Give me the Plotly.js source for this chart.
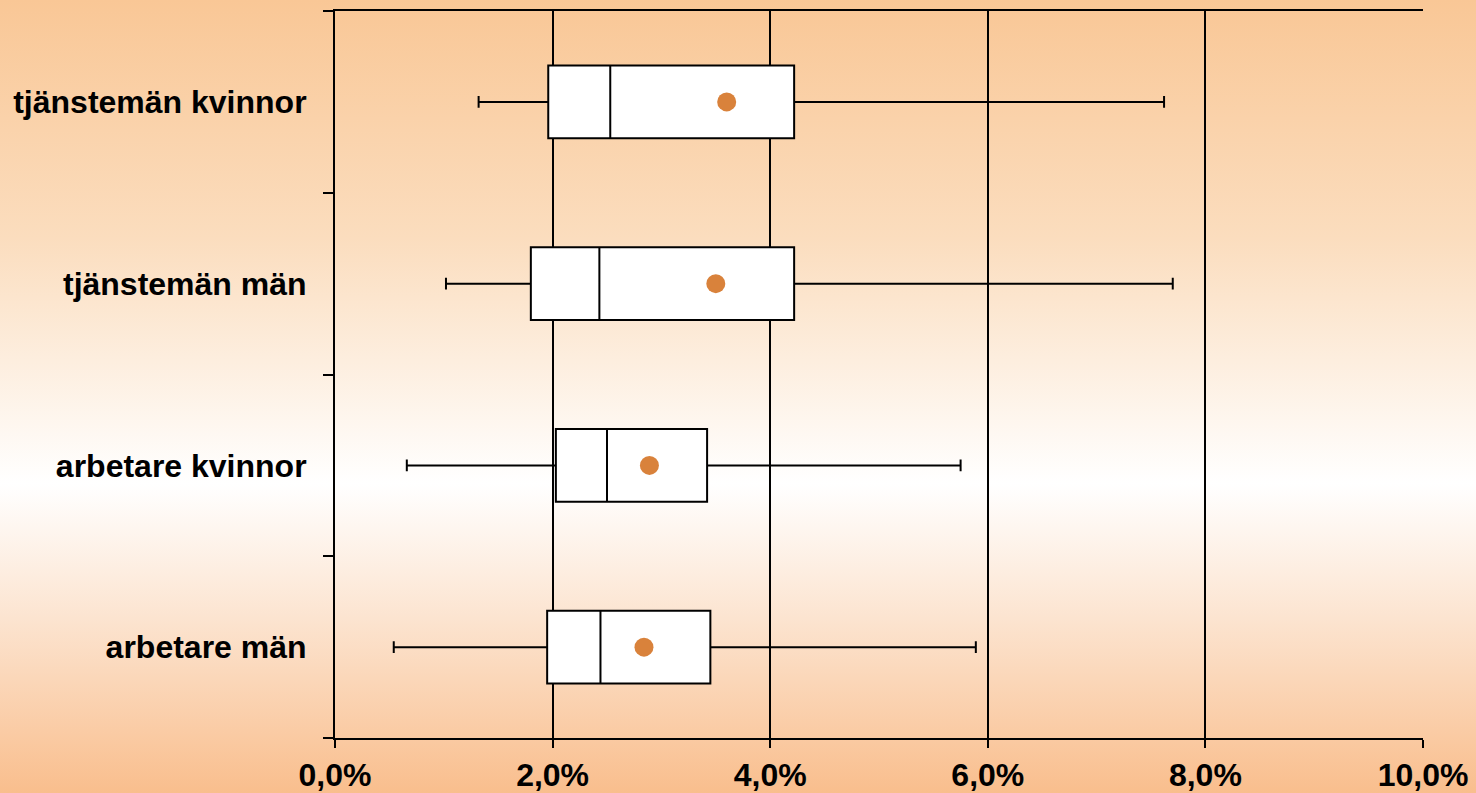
<!DOCTYPE html>
<html>
<head>
<meta charset="utf-8">
<script src="https://cdn.plot.ly/plotly-3.0.1.min.js"></script>
<style>
  html, body { margin: 0; padding: 0; width: 1476px; height: 793px; overflow: hidden;
    background: linear-gradient(to bottom, #F9C796 0%, #FBDDBE 30%, #FFFFFF 61%, #FCE4D0 78%, #F9BE8D 100%); }
  #chart { width: 1476px; height: 793px; }
</style>
</head>
<body>
<div id="chart"></div>
<script>
// Categories (bottom to top)
const categories = ["arbetare män", "arbetare kvinnor", "tjänstemän män", "tjänstemän kvinnor"];
// Box statistics, in percent
const lowerWhisker = [0.54, 0.66, 1.02, 1.32];
const q1Values     = [1.95, 2.03, 1.80, 1.96];
const medianValues = [2.44, 2.50, 2.43, 2.53];
const q3Values     = [3.45, 3.42, 4.22, 4.22];
const upperWhisker = [5.89, 5.75, 7.70, 7.62];
const meanValues   = [2.84, 2.89, 3.50, 3.60];
// X axis ticks
const xTickValues = [0, 2, 4, 6, 8, 10];
const xTickLabels = ["0,0%", "2,0%", "4,0%", "6,0%", "8,0%", "10,0%"];

const boxTrace = {
  type: "box",
  orientation: "h",
  y: categories,
  q1: q1Values,
  median: medianValues,
  q3: q3Values,
  lowerfence: lowerWhisker,
  upperfence: upperWhisker,
  boxpoints: false,
  width: 0.4,
  whiskerwidth: 0.16,
  fillcolor: "#FFFFFF",
  line: { color: "#000000", width: 2 },
  hoverinfo: "skip",
  showlegend: false
};

const meanTrace = {
  type: "scatter",
  mode: "markers",
  x: meanValues,
  y: categories,
  marker: { color: "#D9823B", size: 19, line: { width: 0 } },
  hoverinfo: "skip",
  showlegend: false
};

const labelFont = { family: "Liberation Sans, Arial, sans-serif", size: 32, color: "#000000", weight: "bold" };

const layout = {
  width: 1476,
  height: 793,
  paper_bgcolor: "rgba(0,0,0,0)",
  plot_bgcolor: "rgba(0,0,0,0)",
  margin: { l: 335, r: 53, t: 11, b: 55, pad: 0 },
  showlegend: false,
  xaxis: {
    range: [0, 10],
    tickvals: xTickValues,
    ticktext: xTickLabels,
    showgrid: true,
    gridcolor: "#000000",
    gridwidth: 2,
    zeroline: false,
    showline: true,
    linecolor: "#000000",
    linewidth: 2,
    mirror: true,
    ticks: "outside",
    ticklen: 8,
    tickwidth: 2,
    tickcolor: "#000000",
    tickfont: labelFont,
    fixedrange: true
  },
  yaxis: {
    type: "category",
    categoryorder: "array",
    categoryarray: categories,
    range: [-0.5, 3.5],
    showgrid: false,
    zeroline: false,
    showline: true,
    linecolor: "#000000",
    linewidth: 2,
    ticks: "outside",
    tickson: "boundaries",
    ticklen: 10,
    tickwidth: 2,
    tickcolor: "#000000",
    tickfont: labelFont,
    ticklabelstandoff: 20,
    fixedrange: true
  }
};

Plotly.newPlot("chart", [boxTrace, meanTrace], layout, { displayModeBar: false, staticPlot: true });
</script>
</body>
</html>
